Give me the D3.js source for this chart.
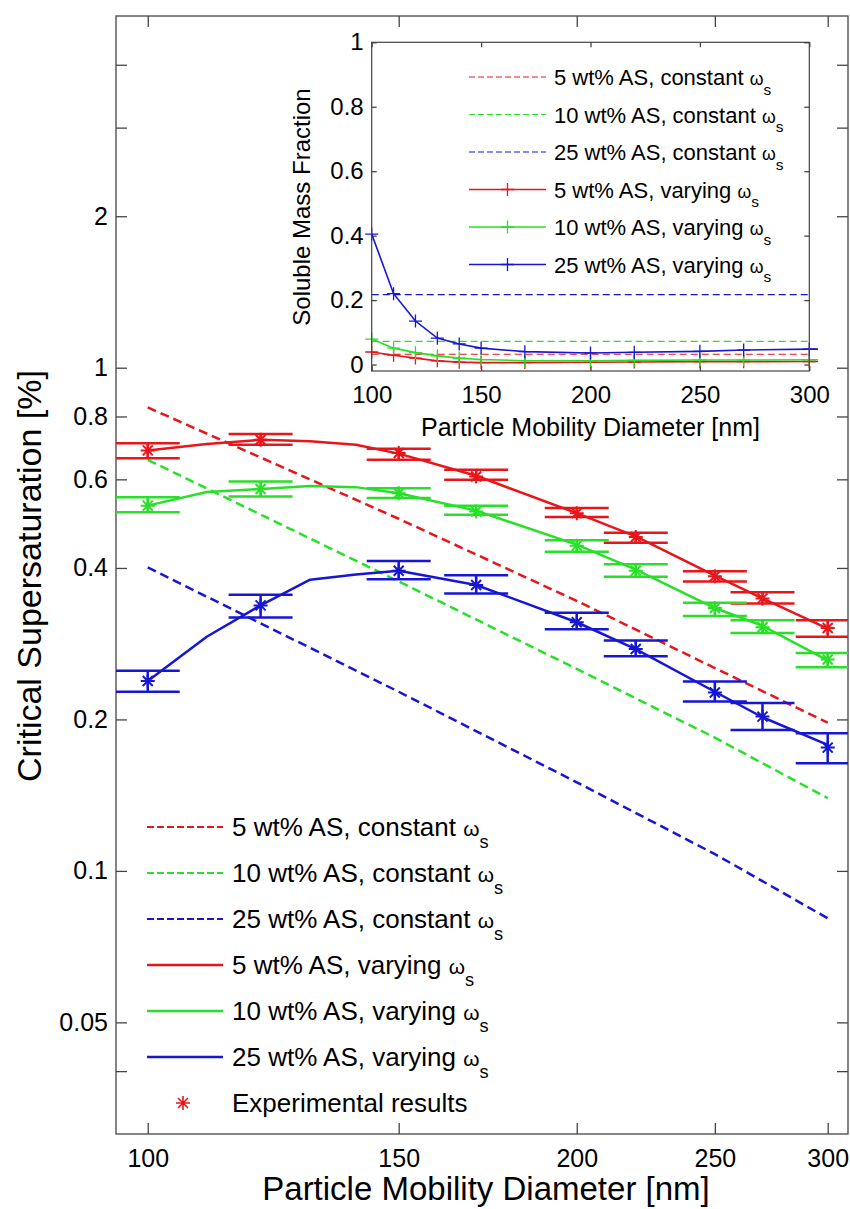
<!DOCTYPE html>
<html>
<head>
<meta charset="utf-8">
<script src="https://cdn.jsdelivr.net/npm/d3@7"></script>
<style>
  html, body { margin: 0; padding: 0; background: #fff; }
  svg text { font-family: "Liberation Sans", Arial, Helvetica, sans-serif; fill: #000; }
</style>
</head>
<body>
<svg id="chart" width="850" height="1209"></svg>
<script>
// ---------------- data ----------------
// Particle mobility diameters (nm)
const modelDiameters = [100, 110, 120, 130, 140, 150, 170, 200, 220, 250, 270, 300];
const expDiameters   = [100, 120, 150, 170, 200, 220, 250, 270, 300];
const constDiameters = [100, 150, 200, 250, 300];

const seriesNames  = ["5 wt% AS", "10 wt% AS", "25 wt% AS"];
const seriesColors = ["#e8161b", "#28e028", "#1616d4"];

// Critical supersaturation [%], model with constant soluble mass fraction
const scConst5  = [0.834, 0.501, 0.344, 0.253, 0.197];
const scConst10 = [0.656, 0.376, 0.252, 0.184, 0.1395];
const scConst25 = [0.401, 0.227, 0.150, 0.108, 0.0805];

// Critical supersaturation [%], model with size-dependent soluble mass fraction
const scVary5  = [0.685, 0.705, 0.719, 0.714, 0.703, 0.675, 0.610, 0.514, 0.462, 0.386, 0.348, 0.303];
const scVary10 = [0.532, 0.566, 0.574, 0.582, 0.579, 0.563, 0.520, 0.445, 0.397, 0.333, 0.307, 0.262];
const scVary25 = [0.2385, 0.292, 0.337, 0.379, 0.388, 0.395, 0.370, 0.312, 0.276, 0.227, 0.202, 0.178];

// Measured critical supersaturation [%] with lower / upper error limits
const scExp5    = [0.685, 0.719, 0.677, 0.608, 0.514, 0.461, 0.385, 0.348, 0.304];
const scExp5Lo  = [0.661, 0.703, 0.656, 0.599, 0.505, 0.449, 0.376, 0.340, 0.292];
const scExp5Hi  = [0.708, 0.738, 0.690, 0.627, 0.526, 0.470, 0.394, 0.358, 0.315];
const scExp10   = [0.532, 0.574, 0.563, 0.518, 0.443, 0.395, 0.333, 0.305, 0.263];
const scExp10Lo = [0.516, 0.555, 0.551, 0.510, 0.431, 0.384, 0.321, 0.297, 0.254];
const scExp10Hi = [0.553, 0.594, 0.576, 0.532, 0.454, 0.407, 0.341, 0.315, 0.271];
const scExp25   = [0.2385, 0.337, 0.395, 0.370, 0.312, 0.276, 0.2263, 0.2026, 0.1758];
const scExp25Lo = [0.227, 0.319, 0.380, 0.356, 0.302, 0.267, 0.2172, 0.1906, 0.1637];
const scExp25Hi = [0.250, 0.354, 0.413, 0.387, 0.326, 0.287, 0.2380, 0.2157, 0.1878];

// Soluble mass fraction (inset)
const smfConst = [0.032, 0.072, 0.217];
const smfVary5  = [0.039, 0.029, 0.020, 0.0115, 0.0075, 0.006, 0.006, 0.007, 0.008, 0.009, 0.009, 0.0095];
const smfVary10 = [0.079, 0.051, 0.037, 0.027, 0.020, 0.0155, 0.012, 0.012, 0.013, 0.014, 0.014, 0.015];
const smfVary25 = [0.405, 0.220, 0.135, 0.082, 0.064, 0.051, 0.040, 0.036, 0.038, 0.041, 0.045, 0.048];
const smfTailDiameter = 304;   // model curves run slightly past the inset frame

// Axis ticks
const xTickValues = [100, 150, 200, 250, 300];
const yTickValues = [0.04, 0.05, 0.1, 0.2, 0.4, 0.6, 0.8, 1, 2, 3, 4];
const yTickLabels = ["", "0.05", "0.1", "0.2", "0.4", "0.6", "0.8", "1", "2", "", ""];
const insetXTicks = [100, 150, 200, 250, 300];
const insetYTicks = [0, 0.2, 0.4, 0.6, 0.8, 1];
const insetYLabels = ["0", "0.2", "0.4", "0.6", "0.8", "1"];

// ---------------- main axes ----------------
const svg = d3.select("#chart");
const M = { left: 116, top: 16, right: 848, bottom: 1134 };
const x = d3.scaleLog().domain([95, 310]).range([M.left, M.right]);
const y = d3.scaleLog().domain([0.03, 5]).range([M.bottom, M.top]);
const AXIS = "#444";

svg.append("defs").append("clipPath").attr("id", "mainClip")
  .append("rect").attr("x", M.left).attr("y", M.top)
  .attr("width", M.right - M.left).attr("height", M.bottom - M.top);

function styleAxis(g, size) {
  g.select(".domain").remove();
  g.attr("font-family", null).attr("font-size", null);
  g.selectAll(".tick line").attr("stroke", AXIS).attr("stroke-width", 1.3);
  g.selectAll(".tick text").style("font-size", size + "px");
}

svg.append("g").attr("transform", `translate(0,${M.bottom})`)
  .call(d3.axisBottom(x).tickValues(xTickValues).tickFormat(d3.format("d"))
    .tickSize(-11).tickPadding(15))
  .call(g => styleAxis(g, 25));
svg.append("g").attr("transform", `translate(0,${M.top})`)
  .call(d3.axisTop(x).tickValues(xTickValues).tickFormat("").tickSize(-11))
  .call(g => styleAxis(g, 25));
svg.append("g").attr("transform", `translate(${M.left},0)`)
  .call(d3.axisLeft(y).tickValues(yTickValues).tickFormat((d, i) => yTickLabels[i])
    .tickSize(-11).tickPadding(8))
  .call(g => styleAxis(g, 25));
svg.append("g").attr("transform", `translate(${M.right},0)`)
  .call(d3.axisRight(y).tickValues(yTickValues).tickFormat("").tickSize(-11))
  .call(g => styleAxis(g, 25));

svg.append("rect").attr("x", M.left).attr("y", M.top)
  .attr("width", M.right - M.left).attr("height", M.bottom - M.top)
  .attr("fill", "none").attr("stroke", AXIS).attr("stroke-width", 1.3);

svg.append("text").attr("x", 486).attr("y", 1200)
  .attr("text-anchor", "middle").style("font-size", "33px")
  .text("Particle Mobility Diameter [nm]");
svg.append("text").attr("transform", "translate(41,576) rotate(-90)")
  .attr("text-anchor", "middle").style("font-size", "34px")
  .text("Critical Supersaturation [%]");

// ---------------- main curves ----------------
const plot = svg.append("g").attr("clip-path", "url(#mainClip)");
const mainLine = d3.line().x(d => x(d[0])).y(d => y(d[1]));

const constSets = [scConst5, scConst10, scConst25];
const varySets = [scVary5, scVary10, scVary25];
const expSets = [
  [scExp5, scExp5Lo, scExp5Hi],
  [scExp10, scExp10Lo, scExp10Hi],
  [scExp25, scExp25Lo, scExp25Hi]
];

constSets.forEach((vals, i) => {
  plot.append("path").datum(d3.zip(constDiameters, vals))
    .attr("d", mainLine).attr("fill", "none")
    .attr("stroke", seriesColors[i]).attr("stroke-width", 2.5)
    .attr("stroke-dasharray", "9,5");
});

varySets.forEach((vals, i) => {
  plot.append("path").datum(d3.zip(modelDiameters, vals))
    .attr("d", mainLine).attr("fill", "none")
    .attr("stroke", seriesColors[i]).attr("stroke-width", 2.5)
    .attr("stroke-linejoin", "round");
});

const STAR = "M-7,0H7M0,-7V7M-5,-5L5,5M-5,5L5,-5";
const CAP = 32;
expSets.forEach(([mid, lo, hi], i) => {
  const pts = expDiameters.map((d, k) => ({ d, v: mid[k], lo: lo[k], hi: hi[k] }));
  const g = plot.append("g").attr("stroke", seriesColors[i]).attr("fill", "none");
  g.selectAll(".bar").data(pts).join("path")
    .attr("stroke-width", 2.5)
    .attr("d", p => {
      const cx = x(p.d), yl = y(p.lo), yh = y(p.hi);
      return `M${cx},${yl}V${yh}M${cx - CAP},${yl}H${cx + CAP}M${cx - CAP},${yh}H${cx + CAP}`;
    });
  g.selectAll(".star").data(pts).join("path")
    .attr("stroke-width", 2)
    .attr("transform", p => `translate(${x(p.d)},${y(p.v)})`)
    .attr("d", STAR);
});

// ---------------- legend helpers ----------------
function omegaLabel(sel, base, size) {
  sel.style("font-size", size + "px");
  sel.append("tspan").text(base + " ");
  sel.append("tspan").style("font-size", (size * 0.8) + "px").text("\u03c9");
  sel.append("tspan").style("font-size", (size * 0.7) + "px")
    .attr("dy", size * 0.45).text("s");
}

// ---------------- main legend ----------------
const legendRows = [];
seriesNames.forEach((n, i) => legendRows.push({ label: n + ", constant", color: seriesColors[i], kind: "dash" }));
seriesNames.forEach((n, i) => legendRows.push({ label: n + ", varying", color: seriesColors[i], kind: "solid" }));
legendRows.push({ label: "Experimental results", color: seriesColors[0], kind: "star" });

const leg = svg.append("g");
legendRows.forEach((r, i) => {
  const cy = 827 + i * 46;
  if (r.kind === "star") {
    leg.append("path").attr("transform", `translate(183,${cy})`).attr("d", STAR)
      .attr("stroke", r.color).attr("stroke-width", 1.6).attr("fill", "none");
    leg.append("text").attr("x", 232).attr("y", cy + 9).style("font-size", "26px").text(r.label);
  } else {
    leg.append("line").attr("x1", 147).attr("x2", 223).attr("y1", cy).attr("y2", cy)
      .attr("stroke", r.color).attr("stroke-width", r.kind === "dash" ? 2 : 2.5)
      .attr("stroke-dasharray", r.kind === "dash" ? "7,3" : null);
    leg.append("text").attr("x", 232).attr("y", cy + 9).call(omegaLabel, r.label, 26);
  }
});

// ---------------- inset: soluble mass fraction ----------------
const I = { left: 371.7, top: 42.3, right: 809.3, bottom: 371 };
const xi = d3.scaleLinear().domain([100, 300]).range([I.left, I.right]);
const yi = d3.scaleLinear().domain([-0.02, 1]).range([I.bottom, I.top]);
const inset = svg.append("g");

inset.append("rect").attr("x", I.left).attr("y", I.top)
  .attr("width", I.right - I.left).attr("height", I.bottom - I.top)
  .attr("fill", "#fff");

inset.append("g").attr("transform", `translate(0,${I.bottom})`)
  .call(d3.axisBottom(xi).tickValues(insetXTicks).tickFormat(d3.format("d"))
    .tickSize(-5).tickPadding(15))
  .call(g => styleAxis(g, 24));
inset.append("g").attr("transform", `translate(0,${I.top})`)
  .call(d3.axisTop(xi).tickValues(insetXTicks).tickFormat("").tickSize(-5))
  .call(g => styleAxis(g, 24));
inset.append("g").attr("transform", `translate(${I.left},0)`)
  .call(d3.axisLeft(yi).tickValues(insetYTicks).tickFormat((d, i) => insetYLabels[i])
    .tickSize(-5).tickPadding(8))
  .call(g => styleAxis(g, 24));
inset.append("g").attr("transform", `translate(${I.right},0)`)
  .call(d3.axisRight(yi).tickValues(insetYTicks).tickFormat("").tickSize(-5))
  .call(g => styleAxis(g, 24));

const insetLine = d3.line().x(d => xi(d[0])).y(d => yi(d[1]));

smfConst.forEach((v, i) => {
  inset.append("path").datum([[100, v], [300, v]])
    .attr("d", insetLine).attr("fill", "none")
    .attr("stroke", seriesColors[i]).attr("stroke-width", 1.2)
    .attr("stroke-dasharray", "7,4");
});

const smfSets = [smfVary5, smfVary10, smfVary25];
const PLUS = "M-6.5,0H6.5M0,-6.5V6.5";
smfSets.forEach((vals, i) => {
  const pts = d3.zip(modelDiameters, vals);
  const tail = pts.concat([[smfTailDiameter, vals[vals.length - 1]]]);
  inset.append("path").datum(tail).attr("d", insetLine).attr("fill", "none")
    .attr("stroke", seriesColors[i]).attr("stroke-width", 1.6);
  inset.append("g").selectAll("path").data(pts).join("path")
    .attr("transform", p => `translate(${xi(p[0])},${yi(p[1])})`)
    .attr("d", PLUS).attr("stroke", seriesColors[i]).attr("stroke-width", 1.3);
});

inset.append("rect").attr("x", I.left).attr("y", I.top)
  .attr("width", I.right - I.left).attr("height", I.bottom - I.top)
  .attr("fill", "none").attr("stroke", AXIS).attr("stroke-width", 1.2);

inset.append("text").attr("x", (I.left + I.right) / 2).attr("y", 436)
  .attr("text-anchor", "middle").style("font-size", "25px")
  .text("Particle Mobility Diameter [nm]");
inset.append("text").attr("transform", "translate(310,207) rotate(-90)")
  .attr("text-anchor", "middle").style("font-size", "24px")
  .text("Soluble Mass Fraction");

// inset legend
const insetLeg = inset.append("g");
legendRows.slice(0, 6).forEach((r, i) => {
  const cy = 77 + i * 37.5;
  insetLeg.append("line").attr("x1", 469).attr("x2", 546).attr("y1", cy).attr("y2", cy)
    .attr("stroke", r.color).attr("stroke-width", r.kind === "dash" ? 1.2 : 1.6)
    .attr("stroke-dasharray", r.kind === "dash" ? "6,3" : null);
  if (r.kind === "solid") {
    insetLeg.append("path").attr("transform", `translate(507.5,${cy})`).attr("d", PLUS)
      .attr("stroke", r.color).attr("stroke-width", 1.3);
  }
  insetLeg.append("text").attr("x", 554).attr("y", cy + 8).call(omegaLabel, r.label, 22);
});
</script>
</body>
</html>
